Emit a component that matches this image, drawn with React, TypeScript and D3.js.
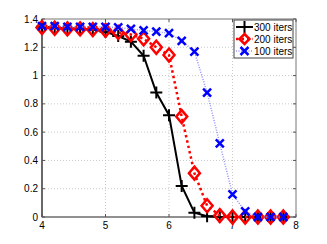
import React, { useEffect, useRef } from 'react';
import * as d3 from 'd3';

const xs = [4, 4.2, 4.4, 4.6, 4.8, 5, 5.2, 5.4, 5.6, 5.8, 6, 6.2, 6.4, 6.6, 6.8, 7, 7.2, 7.4, 7.6, 7.8];
const iters300 = [1.345, 1.34, 1.335, 1.33, 1.325, 1.31, 1.28, 1.24, 1.14, 0.88, 0.72, 0.22, 0.03, 0.005, 0, 0, 0, 0, 0, 0];
const iters200 = [1.34, 1.335, 1.33, 1.33, 1.325, 1.32, 1.305, 1.29, 1.26, 1.2, 1.145, 0.71, 0.31, 0.08, 0.01, 0, 0, 0, 0, 0];
const iters100 = [1.35, 1.35, 1.345, 1.345, 1.345, 1.345, 1.34, 1.33, 1.32, 1.31, 1.3, 1.245, 1.17, 0.88, 0.52, 0.16, 0.04, 0, 0, 0];
const xTicks = [4, 5, 6, 7, 8];
const yTicks = [0, 0.2, 0.4, 0.6, 0.8, 1, 1.2, 1.4];
const seriesNames = ['300 iters', '200 iters', '100 iters'];

const App = () => {
  const ref = useRef<SVGSVGElement>(null);

  useEffect(() => {
    const svg = d3.select(ref.current);
    svg.selectAll('*').remove();

    const margin = { top: 19, right: 31, bottom: 27, left: 42 };
    const width = 327 - margin.left - margin.right;
    const height = 244 - margin.top - margin.bottom;
    const font = 'Liberation Sans, Arial, sans-serif';

    const g = svg.append('g').attr('transform', `translate(${margin.left},${margin.top})`);

    const x = d3.scaleLinear().domain([4, 8]).range([0, width]);
    const y = d3.scaleLinear().domain([0, 1.4]).range([height, 0]);

    // grid
    g.selectAll('.gx').data(xTicks.slice(1, -1)).enter().append('line')
      .attr('x1', d => x(d)).attr('x2', d => x(d)).attr('y1', 0).attr('y2', height)
      .attr('stroke', '#bbb').attr('stroke-width', 0.8).attr('stroke-dasharray', '1,2');
    g.selectAll('.gy').data(yTicks.slice(1, -1)).enter().append('line')
      .attr('x1', 0).attr('x2', width).attr('y1', d => y(d)).attr('y2', d => y(d))
      .attr('stroke', '#bbb').attr('stroke-width', 0.8).attr('stroke-dasharray', '1,2');

    // box
    g.append('rect').attr('width', width).attr('height', height)
      .attr('fill', 'none').attr('stroke', '#777').attr('stroke-width', 1);
    g.append('line').attr('x1', 0).attr('x2', 0).attr('y1', 0).attr('y2', height)
      .attr('stroke', '#333').attr('stroke-width', 1.2);
    g.append('line').attr('x1', 0).attr('x2', width).attr('y1', height).attr('y2', height)
      .attr('stroke', '#666').attr('stroke-width', 1.2);

    // tick marks
    g.selectAll('.tx').data(xTicks).enter().append('line')
      .attr('x1', d => x(d)).attr('x2', d => x(d)).attr('y1', height).attr('y2', height - 3)
      .attr('stroke', '#555');
    g.selectAll('.tx2').data(xTicks).enter().append('line')
      .attr('x1', d => x(d)).attr('x2', d => x(d)).attr('y1', 0).attr('y2', 3)
      .attr('stroke', '#555');
    g.selectAll('.ty').data(yTicks).enter().append('line')
      .attr('x1', 0).attr('x2', 3).attr('y1', d => y(d)).attr('y2', d => y(d))
      .attr('stroke', '#555');
    g.selectAll('.ty2').data(yTicks).enter().append('line')
      .attr('x1', width - 3).attr('x2', width).attr('y1', d => y(d)).attr('y2', d => y(d))
      .attr('stroke', '#555');

    // tick labels
    g.selectAll('.lx').data(xTicks).enter().append('text')
      .attr('x', d => x(d)).attr('y', height + 12)
      .attr('text-anchor', 'middle').attr('font-family', font).attr('font-size', 10)
      .text(d => d);
    g.selectAll('.ly').data(yTicks).enter().append('text')
      .attr('x', -4).attr('y', d => y(d) + 3.5)
      .attr('text-anchor', 'end').attr('font-family', font).attr('font-size', 10)
      .text(d => d);

    const pts = (vals: number[]) => vals.map((v, i) => [xs[i], v] as [number, number]);
    const line = d3.line<[number, number]>().x(d => x(d[0])).y(d => y(d[1]));

    const plot = g.append('g');
    const plus = 'M-6,0H6M0,-6V6';
    const diamond = 'M0,-6.5L5.5,0L0,6.5L-5.5,0Z';
    const cross = 'M-4,-4L4,4M-4,4L4,-4';

    // 300 iters
    plot.append('path').datum(pts(iters300)).attr('d', line)
      .attr('fill', 'none').attr('stroke', '#000').attr('stroke-width', 2);
    plot.selectAll('.m300').data(pts(iters300)).enter().append('path')
      .attr('d', plus)
      .attr('transform', d => `translate(${x(d[0])},${y(d[1])})`)
      .attr('stroke', '#000').attr('stroke-width', 2);

    // 200 iters
    plot.append('path').datum(pts(iters200)).attr('d', line)
      .attr('fill', 'none').attr('stroke', '#f00').attr('stroke-width', 2.5)
      .attr('stroke-dasharray', '2.5,3');
    plot.selectAll('.m200').data(pts(iters200)).enter().append('path')
      .attr('d', diamond)
      .attr('transform', d => `translate(${x(d[0])},${y(d[1])})`)
      .attr('fill', 'none').attr('stroke', '#f00').attr('stroke-width', 2.5);

    // 100 iters
    plot.append('path').datum(pts(iters100)).attr('d', line)
      .attr('fill', 'none').attr('stroke', '#9090ff').attr('stroke-width', 1.5)
      .attr('stroke-dasharray', '1,1.5');
    plot.selectAll('.m100').data(pts(iters100)).enter().append('path')
      .attr('d', cross)
      .attr('transform', d => `translate(${x(d[0])},${y(d[1])})`)
      .attr('stroke', '#00f').attr('stroke-width', 2.5);

    // legend
    const lg = svg.append('g').attr('transform', 'translate(234,20)');
    lg.append('rect').attr('width', 59).attr('height', 38)
      .attr('fill', '#fff').attr('stroke', '#444').attr('stroke-width', 1);
    seriesNames.forEach((name, i) => {
      const cy = 7 + i * 12;
      const row = lg.append('g').attr('transform', `translate(0,${cy})`);
      if (i === 0) {
        row.append('line').attr('x1', 2).attr('x2', 19).attr('stroke', '#000').attr('stroke-width', 2);
        row.append('path').attr('d', plus).attr('transform', 'translate(10.5,0)')
          .attr('stroke', '#000').attr('stroke-width', 2);
      } else if (i === 1) {
        row.append('line').attr('x1', 2).attr('x2', 19).attr('stroke', '#f00').attr('stroke-width', 2.5)
          .attr('stroke-dasharray', '2.5,3');
        row.append('path').attr('d', 'M0,-5L5,0L0,5L-5,0Z').attr('transform', 'translate(10.5,0)')
          .attr('fill', 'none').attr('stroke', '#f00').attr('stroke-width', 2.5);
      } else {
        row.append('line').attr('x1', 2).attr('x2', 19).attr('stroke', '#9090ff').attr('stroke-width', 1.5)
          .attr('stroke-dasharray', '1,1.5');
        row.append('path').attr('d', cross).attr('transform', 'translate(10.5,0)')
          .attr('stroke', '#00f').attr('stroke-width', 2.5);
      }
      row.append('text').attr('x', 20).attr('y', 3.5)
        .attr('font-family', font).attr('font-size', 10).text(name);
    });
  }, []);

  return (
    <svg ref={ref} width={327} height={244}
      style={{ position: 'absolute', left: 0, top: 0, background: '#fff' }} />
  );
};

export default App;
